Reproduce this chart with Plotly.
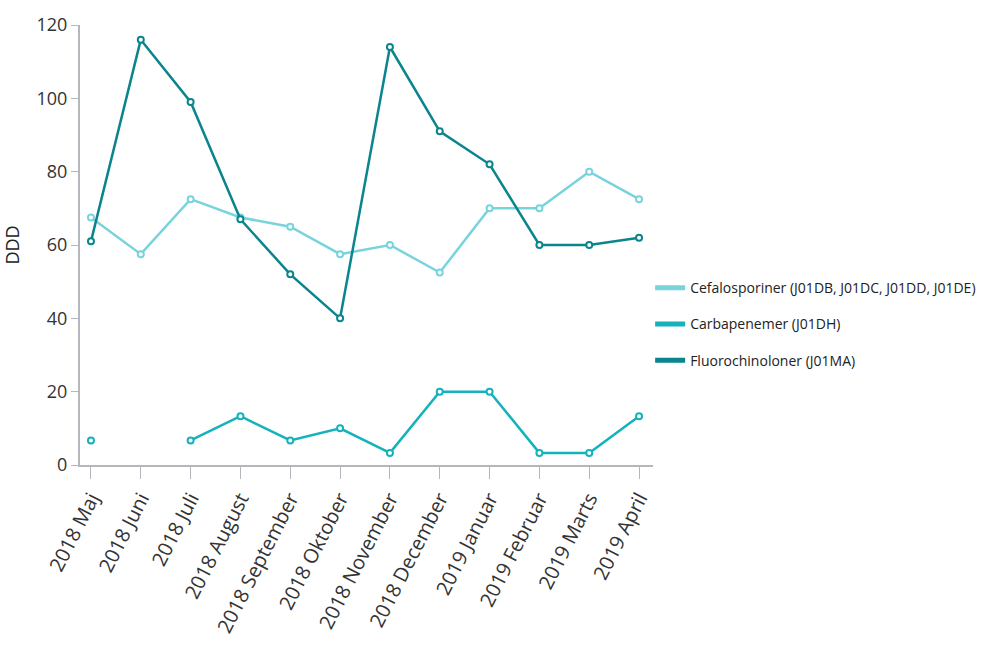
import plotly.graph_objects as go

months = ["2018 Maj", "2018 Juni", "2018 Juli", "2018 August", "2018 September",
          "2018 Oktober", "2018 November", "2018 December", "2019 Januar",
          "2019 Februar", "2019 Marts", "2019 April"]

cefalosporiner = [67.5, 57.5, 72.5, 67.5, 65, 57.5, 60, 52.5, 70, 70, 80, 72.5]
carbapenemer = [6.7, None, 6.7, 13.3, 6.7, 10, 3.3, 20, 20, 3.3, 3.3, 13.3]
fluorochinoloner = [61, 116, 99, 67, 52, 40, 114, 91, 82, 60, 60, 62]

y_ticks = [0, 20, 40, 60, 80, 100, 120]

series = [
    ("Cefalosporiner (J01DB, J01DC, J01DD, J01DE)", cefalosporiner, "#78d4dc"),
    ("Carbapenemer (J01DH)", carbapenemer, "#14b2bb"),
    ("Fluorochinoloner (J01MA)", fluorochinoloner, "#0b858d"),
]

FONT = "Open Sans, sans-serif"

fig = go.Figure()
for i, (name, vals, color) in enumerate(series):
    # data line with open circle markers
    fig.add_trace(go.Scatter(
        x=months, y=vals, name=name, mode="lines+markers",
        line=dict(color=color, width=2.5),
        marker=dict(symbol="circle", size=6, color="white",
                    line=dict(color=color, width=2)),
        connectgaps=False, showlegend=False, legendgroup=f"g{i}",
    ))
    # legend entry drawn as a short thick line
    fig.add_trace(go.Scatter(
        x=[None], y=[None], name=name, mode="lines",
        line=dict(color=color, width=5),
        showlegend=True, legendgroup=f"g{i}",
    ))

fig.update_layout(
    width=993, height=649,
    paper_bgcolor="white", plot_bgcolor="white",
    margin=dict(l=77, r=338, t=25, b=184),
    font=dict(family=FONT, size=14, color="#333333"),
    showlegend=True,
    legend=dict(x=0.995, y=0.32, xanchor="left", yanchor="middle",
                font=dict(family=FONT, size=14, color="#222222"),
                itemwidth=30, tracegroupgap=15,
                bgcolor="rgba(0,0,0,0)"),
)

fig.update_xaxes(
    type="category", range=[-0.22, 11.28],
    showline=True, linecolor="#b4b8bc", linewidth=2,
    ticks="outside", ticklen=12, tickcolor="#b4b8bc", tickwidth=1,
    tickangle=-63, tickfont=dict(family=FONT, size=20, color="#333333"),
    showgrid=False, zeroline=False,
)
fig.update_yaxes(
    range=[0, 120], tickvals=y_ticks,
    showline=True, linecolor="#b4b8bc", linewidth=2,
    ticks="outside", ticklen=7, tickcolor="#b4b8bc", tickwidth=1,
    tickfont=dict(family=FONT, size=18, color="#333333"),
    showgrid=False, zeroline=False,
    title=dict(text="DDD", font=dict(family=FONT, size=18, color="#222222"), standoff=12),
)

fig.write_html("out.html")
